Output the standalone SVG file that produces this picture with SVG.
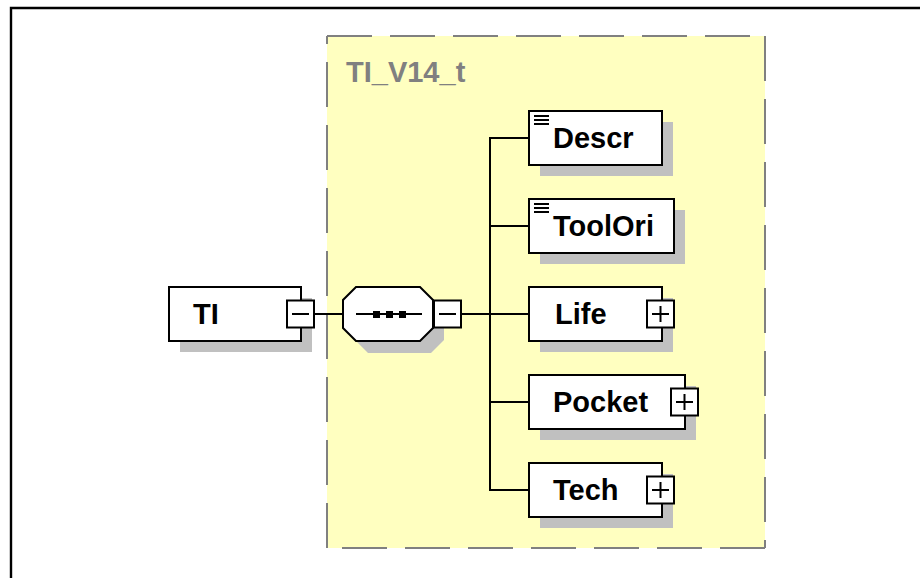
<svg xmlns="http://www.w3.org/2000/svg" width="920" height="578" viewBox="0 0 920 578">
<style>
.box{fill:#fff;stroke:#000;stroke-width:2}
.shadow{fill:#c0c0c0;stroke:none}
.btn{fill:#fff;stroke:#000;stroke-width:2}
.sym{stroke:#000;stroke-width:2;fill:none}
.conn{stroke:#000;stroke-width:2;fill:none}
.lbl{font-family:"Liberation Sans",Arial,sans-serif;font-weight:bold;font-size:29px;fill:#000}
.type{font-family:"Liberation Sans",Arial,sans-serif;font-weight:bold;font-size:29px;fill:#808080}
.dash{stroke:#808080;stroke-width:2;stroke-dasharray:45 18;fill:none}
</style>
<rect x="0" y="0" width="920" height="578" fill="#fff"/>
<path d="M11,578 V8 H920" fill="none" stroke="#000" stroke-width="2.4"/>

<g id="type-TI_V14_t">
  <rect x="327" y="36" width="438" height="512" fill="#ffffc0"/>
  <line class="dash" x1="327" y1="36" x2="765" y2="36"/>
  <line class="dash" x1="765" y1="36" x2="765" y2="548"/>
  <line class="dash" x1="765" y1="548" x2="327" y2="548"/>
  <line class="dash" x1="327" y1="548" x2="327" y2="36"/>
  <text class="type" x="346" y="82">TI_V14_t</text>
</g>

<g id="connectors">
  <line class="conn" x1="314" y1="314" x2="343" y2="314"/>
  <line class="conn" x1="461" y1="314" x2="490" y2="314"/>
  <line class="conn" x1="490" y1="137" x2="490" y2="491"/>
  <line class="conn" x1="489" y1="138" x2="529" y2="138"/>
  <line class="conn" x1="489" y1="226" x2="529" y2="226"/>
  <line class="conn" x1="489" y1="314" x2="529" y2="314"/>
  <line class="conn" x1="489" y1="402" x2="529" y2="402"/>
  <line class="conn" x1="489" y1="490" x2="529" y2="490"/>
</g>

<g id="node-TI">
  <rect class="shadow" x="180" y="298" width="132" height="54"/>
  <rect class="box" x="169" y="287" width="132" height="54"/>
  <text class="lbl" x="193" y="324">TI</text>
  <rect class="btn" x="287" y="300.5" width="27" height="27"/>
  <line class="sym" x1="292" y1="314" x2="309" y2="314"/>
</g>

<g id="node-sequence">
  <polygon class="shadow" points="368,299 431,299 444,312 444,340 431,353 368,353 355,340 355,312"/>
  <polygon class="box" points="356,287 420,287 433,300 433,328 420,341 356,341 343,328 343,300"/>
  <line class="sym" x1="356" y1="314" x2="422" y2="314"/>
  <rect x="373" y="311" width="7" height="7" fill="#000"/>
  <rect x="386" y="311" width="7" height="7" fill="#000"/>
  <rect x="399" y="311" width="7" height="7" fill="#000"/>
  <rect class="btn" x="434" y="300.5" width="27" height="27"/>
  <line class="sym" x1="439" y1="314" x2="456" y2="314"/>
</g>

<g id="node-Descr">
  <rect class="shadow" x="540" y="122" width="133" height="54"/>
  <rect class="box" x="529" y="111" width="133" height="54"/>
  <line class="sym" x1="534" y1="116" x2="549" y2="116"/>
  <line class="sym" x1="534" y1="120" x2="549" y2="120"/>
  <line class="sym" x1="534" y1="124" x2="549" y2="124"/>
  <text class="lbl" x="553" y="148">Descr</text>
</g>

<g id="node-ToolOri">
  <rect class="shadow" x="540" y="210" width="145" height="54"/>
  <rect class="box" x="529" y="199" width="145" height="54"/>
  <line class="sym" x1="534" y1="204" x2="549" y2="204"/>
  <line class="sym" x1="534" y1="208" x2="549" y2="208"/>
  <line class="sym" x1="534" y1="212" x2="549" y2="212"/>
  <text class="lbl" x="553" y="236">ToolOri</text>
</g>

<g id="node-Life">
  <rect class="shadow" x="540" y="298" width="133" height="54"/>
  <rect class="box" x="529" y="287" width="133" height="54"/>
  <text class="lbl" x="555" y="324">Life</text>
  <rect class="btn" x="647" y="300.5" width="27" height="27"/>
  <line class="sym" x1="652" y1="314" x2="669" y2="314"/>
  <line class="sym" x1="660.5" y1="306" x2="660.5" y2="322"/>
</g>

<g id="node-Pocket">
  <rect class="shadow" x="540" y="386" width="156" height="54"/>
  <rect class="box" x="529" y="375" width="156" height="54"/>
  <text class="lbl" x="553" y="412">Pocket</text>
  <rect class="btn" x="671" y="388.5" width="27" height="27"/>
  <line class="sym" x1="676" y1="402" x2="693" y2="402"/>
  <line class="sym" x1="684.5" y1="394" x2="684.5" y2="410"/>
</g>

<g id="node-Tech">
  <rect class="shadow" x="540" y="474" width="133" height="54"/>
  <rect class="box" x="529" y="463" width="133" height="54"/>
  <text class="lbl" x="553" y="500">Tech</text>
  <rect class="btn" x="647" y="476.5" width="27" height="27"/>
  <line class="sym" x1="652" y1="490" x2="669" y2="490"/>
  <line class="sym" x1="660.5" y1="482" x2="660.5" y2="498"/>
</g>
</svg>
